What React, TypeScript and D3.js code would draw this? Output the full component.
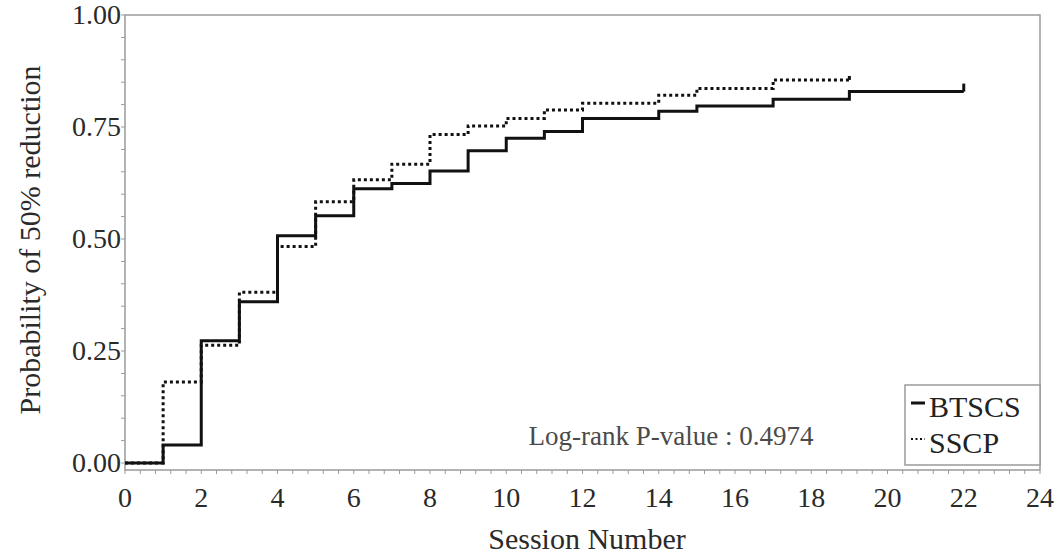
import React, { useEffect, useRef } from 'react'
import * as d3 from 'd3'

// step times (start of each interval) and estimated probabilities
const btscsTimes = [0, 1, 2, 3, 4, 5, 6, 7, 8, 9, 10, 11, 12, 14, 15, 17, 19]
const btscsProb = [0, 0.040, 0.273, 0.360, 0.507, 0.552, 0.612, 0.624, 0.652, 0.697, 0.725, 0.740, 0.769, 0.785, 0.797, 0.812, 0.829]
const btscsEnd = 22

const sscpTimes = [0, 1, 2, 3, 4, 5, 6, 7, 8, 9, 10, 11, 12, 14, 15, 17]
const sscpProb = [0, 0.181, 0.263, 0.381, 0.483, 0.583, 0.632, 0.667, 0.733, 0.752, 0.769, 0.788, 0.803, 0.821, 0.836, 0.855]
const sscpEnd = 19

const xTicks = [0, 2, 4, 6, 8, 10, 12, 14, 16, 18, 20, 22, 24]
const yTicks = [0, 0.25, 0.5, 0.75, 1]
const yTickLabels = ['0.00', '0.25', '0.50', '0.75', '1.00']
const seriesNames = ['BTSCS', 'SSCP']
const pValueText = 'Log-rank P-value : 0.4974'

const FONT = '"Liberation Serif", "Times New Roman", serif'

const toSteps = (times: number[], probs: number[], end: number) => {
  const pts = times.map((t, i) => ({ t, p: probs[i] }))
  pts.push({ t: end, p: probs[probs.length - 1] })
  return pts
}

export default function App() {
  const svgRef = useRef<SVGSVGElement>(null)
  const width = 1063
  const height = 560

  useEffect(() => {
    const svg = d3.select(svgRef.current)
    svg.selectAll('*').remove()

    const left = 125, right = 1040, top = 15, axisY = 470

    const x = d3.scaleLinear().domain([0, 24]).range([left, right])
    const y = d3.scaleLinear().domain([0, 1]).range([463, top])

    // frame
    svg.append('rect')
      .attr('x', left).attr('y', top)
      .attr('width', right - left).attr('height', axisY - top)
      .attr('fill', 'none').attr('stroke', '#9a9a9a').attr('stroke-width', 1.5)

    // x ticks
    const xMinor = d3.range(0, 24.01, 0.4)
    svg.append('g').selectAll('line').data(xMinor).enter().append('line')
      .attr('x1', d => x(d)).attr('x2', d => x(d))
      .attr('y1', axisY).attr('y2', axisY + 4)
      .attr('stroke', '#9a9a9a').attr('stroke-width', 1)
    svg.append('g').selectAll('text').data(xTicks).enter().append('text')
      .attr('x', d => x(d)).attr('y', 507)
      .attr('text-anchor', 'middle')
      .attr('font-family', FONT).attr('font-size', 28).attr('fill', '#2a2a2a')
      .text(d => String(d))

    // y ticks
    const yMinor = d3.range(0, 1.001, 0.05)
    svg.append('g').selectAll('line').data(yMinor).enter().append('line')
      .attr('x1', left - 4).attr('x2', left)
      .attr('y1', d => y(d)).attr('y2', d => y(d))
      .attr('stroke', '#9a9a9a').attr('stroke-width', 1)
    svg.append('g').selectAll('text').data(yTicks).enter().append('text')
      .attr('x', 121).attr('y', d => y(d) + 9)
      .attr('text-anchor', 'end')
      .attr('font-family', FONT).attr('font-size', 28).attr('fill', '#2a2a2a')
      .text((d, i) => yTickLabels[i])

    // axis titles
    svg.append('text')
      .attr('x', 587).attr('y', 549)
      .attr('text-anchor', 'middle')
      .attr('font-family', FONT).attr('font-size', 30).attr('fill', '#2a2a2a')
      .text('Session Number')
    svg.append('text')
      .attr('transform', 'translate(40,240) rotate(-90)')
      .attr('text-anchor', 'middle')
      .attr('font-family', FONT).attr('font-size', 30).attr('fill', '#2a2a2a')
      .text('Probability of 50% reduction')

    // step curves
    const line = d3.line<{ t: number; p: number }>()
      .x(d => x(d.t)).y(d => y(d.p))
      .curve(d3.curveStepAfter)

    const btscs = toSteps(btscsTimes, btscsProb, btscsEnd)
    const sscp = toSteps(sscpTimes, sscpProb, sscpEnd)

    svg.append('path').datum(sscp)
      .attr('d', line)
      .attr('fill', 'none').attr('stroke', '#111').attr('stroke-width', 3)
      .attr('stroke-dasharray', '3 3')
    svg.append('path').datum(btscs)
      .attr('d', line)
      .attr('fill', 'none').attr('stroke', '#111').attr('stroke-width', 3)

    // censor marks at the end
    const ends = [
      { t: btscsEnd, p: btscsProb[btscsProb.length - 1], h: 8 },
      { t: sscpEnd, p: sscpProb[sscpProb.length - 1], h: 4 },
    ]
    svg.append('g').selectAll('line').data(ends).enter().append('line')
      .attr('x1', d => x(d.t)).attr('x2', d => x(d.t))
      .attr('y1', d => y(d.p)).attr('y2', d => y(d.p) - d.h)
      .attr('stroke', '#111').attr('stroke-width', 3)

    // p-value
    svg.append('text')
      .attr('x', 671).attr('y', 445)
      .attr('text-anchor', 'middle')
      .attr('font-family', FONT).attr('font-size', 27).attr('fill', '#4a4a4a')
      .text(pValueText)

    // legend
    const lg = svg.append('g')
    lg.append('rect')
      .attr('x', 905).attr('y', 385).attr('width', 135).attr('height', 80)
      .attr('fill', 'white').attr('stroke', '#9a9a9a').attr('stroke-width', 1.5)
    seriesNames.forEach((name, i) => {
      const cy = 403 + i * 36
      lg.append('line')
        .attr('x1', 911).attr('x2', 925)
        .attr('y1', cy).attr('y2', cy)
        .attr('stroke', '#111').attr('stroke-width', i === 0 ? 3 : 2)
        .attr('stroke-dasharray', i === 0 ? null : '2 2.5')
      lg.append('text')
        .attr('x', 929).attr('y', cy + 14)
        .attr('font-family', FONT).attr('font-size', 30).attr('fill', '#222')
        .text(name)
    })
  }, [])

  return (
    <svg ref={svgRef} width={width} height={height}
      style={{ position: 'absolute', left: 0, top: 0, background: 'white' }} />
  )
}
